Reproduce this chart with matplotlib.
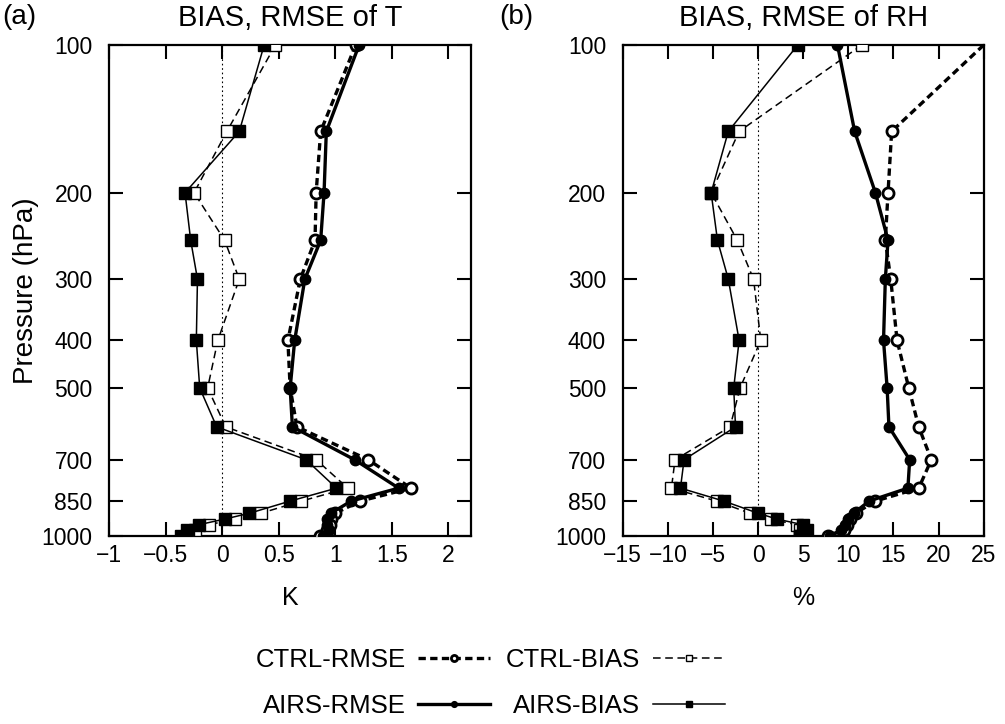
import matplotlib
matplotlib.use("Agg")
import matplotlib.pyplot as plt
from matplotlib.lines import Line2D
from matplotlib.ticker import NullLocator

plt.rcParams['font.family'] = ['Liberation Sans', 'DejaVu Sans']

# ---------------- data ----------------
levels = [100, 150, 200, 250, 300, 400, 500, 600, 700, 800, 850, 900, 925, 950, 975, 1000]

# (a) temperature (K)
t_ctrl_rmse = [1.18, 0.87, 0.83, 0.82, 0.69, 0.58, 0.60, 0.66, 1.29, 1.67, 1.22, 1.00, 0.96, 0.95, 0.93, 0.86]
t_ctrl_bias = [0.47, 0.04, -0.25, 0.02, 0.15, -0.04, -0.13, 0.03, 0.83, 1.11, 0.70, 0.34, 0.11, -0.12, -0.24, -0.30]
t_airs_rmse = [1.21, 0.92, 0.90, 0.87, 0.73, 0.64, 0.60, 0.62, 1.17, 1.56, 1.14, 0.96, 0.93, 0.93, 0.94, 0.89]
t_airs_bias = [0.37, 0.15, -0.33, -0.28, -0.22, -0.23, -0.20, -0.05, 0.74, 1.01, 0.60, 0.24, 0.02, -0.21, -0.31, -0.37]

# (b) relative humidity (%)
rh_ctrl_rmse = [25.0, 14.8, 14.4, 14.1, 14.7, 15.4, 16.7, 17.8, 19.2, 17.8, 13.0, 10.8, 10.2, 9.8, 9.5, 7.7]
rh_ctrl_bias = [11.5, -2.1, -5.2, -2.3, -0.5, 0.3, -2.0, -3.1, -9.2, -9.6, -4.6, -0.9, 1.4, 4.3, 4.6, 4.6]
rh_airs_rmse = [8.8, 10.7, 13.0, 14.4, 14.1, 13.9, 14.3, 14.5, 16.8, 16.6, 12.3, 10.6, 10.0, 9.6, 9.2, 8.0]
rh_airs_bias = [4.4, -3.3, -5.2, -4.5, -3.3, -2.1, -2.7, -2.5, -8.2, -8.6, -3.8, 0.0, 2.1, 5.0, 5.4, 4.7]

p_ticks = [100, 200, 300, 400, 500, 700, 850, 1000]
t_xticks = [-1, -0.5, 0, 0.5, 1, 1.5, 2]
t_xticklabels = ['\u22121', '\u22120.5', '0', '0.5', '1', '1.5', '2']
rh_xticks = [-15, -10, -5, 0, 5, 10, 15, 20, 25]
rh_xticklabels = ['\u221215', '\u221210', '\u22125', '0', '5', '10', '15', '20', '25']

series_names = ['CTRL-RMSE', 'CTRL-BIAS', 'AIRS-RMSE', 'AIRS-BIAS']

# ---------------- styles ----------------
styles = {
    'CTRL-RMSE': dict(color='black', lw=2.4, ls=(0, (2.2, 1.3)), marker='o', ms=8,
                      mfc='white', mec='black', mew=2.0),
    'CTRL-BIAS': dict(color='black', lw=1.1, ls=(0, (5, 3)), marker='s', ms=8,
                      mfc='white', mec='black', mew=1.0),
    'AIRS-RMSE': dict(color='black', lw=2.4, ls='-', marker='o', ms=7.5,
                      mfc='black', mec='black', mew=1.0),
    'AIRS-BIAS': dict(color='black', lw=1.1, ls='-', marker='s', ms=8,
                      mfc='black', mec='black', mew=1.0),
}

fig = plt.figure(figsize=(10.05, 7.24), dpi=100)
bottom = 1 - 535.7 / 724
top = 1 - 45 / 724
axa = fig.add_axes([109.3 / 1005, bottom, (471 - 109.3) / 1005, top - bottom])
axb = fig.add_axes([622.7 / 1005, bottom, (983.7 - 622.7) / 1005, top - bottom])

def setup(ax, xlim, xticks, xticklabels, title, xlabel):
    ax.set_yscale('log')
    ax.set_ylim(1000, 100)
    ax.set_xlim(*xlim)
    ax.set_yticks(p_ticks)
    ax.set_yticklabels([str(p) for p in p_ticks])
    ax.yaxis.set_minor_locator(NullLocator())
    ax.set_xticks(xticks)
    ax.set_xticklabels(xticklabels)
    ax.tick_params(axis='both', which='major', direction='in', length=10, width=1.5,
                   top=True, right=True, labelsize=16.5)
    ax.tick_params(axis='y', pad=12)
    ax.tick_params(axis='x', pad=6)
    for s in ax.spines.values():
        s.set_linewidth(1.6)
    ax.axvline(0, color='black', lw=0.8, ls=(0, (1.5, 2.5)), zorder=1)
    ax.set_title(title, fontsize=21, pad=14)
    ax.set_xlabel(xlabel, fontsize=18, labelpad=14)

setup(axa, (-1, 2.2), t_xticks, t_xticklabels, 'BIAS, RMSE of T', 'K')
setup(axb, (-15, 25), rh_xticks, rh_xticklabels, 'BIAS, RMSE of RH', '%')
axa.set_ylabel('Pressure (hPa)', fontsize=20, labelpad=2)

t_data = [t_ctrl_rmse, t_ctrl_bias, t_airs_rmse, t_airs_bias]
rh_data = [rh_ctrl_rmse, rh_ctrl_bias, rh_airs_rmse, rh_airs_bias]

for name, vals in zip(series_names, t_data):
    axa.plot(vals, levels, zorder=3, **styles[name])
for name, vals in zip(series_names, rh_data):
    kw = dict(styles[name])
    if name == 'CTRL-RMSE':
        kw['markevery'] = slice(1, None)
    axb.plot(vals, levels, zorder=3, **kw)

fig.text(0.002, 0.995, '(a)', fontsize=20, ha='left', va='top')
fig.text(0.497, 0.995, '(b)', fontsize=20, ha='left', va='top')

# legend (row-wise: CTRL-RMSE, CTRL-BIAS / AIRS-RMSE, AIRS-BIAS)
leg_order = ['CTRL-RMSE', 'AIRS-RMSE', 'CTRL-BIAS', 'AIRS-BIAS']
handles = [Line2D([], [], **styles[n]) for n in leg_order]
leg = fig.legend(handles, leg_order, loc='center', bbox_to_anchor=(490 / 1005, 1 - 683 / 724),
                 ncol=2, frameon=False, markerfirst=False, fontsize=18.5,
                 handlelength=2.8, handletextpad=0.5, columnspacing=0.6,
                 labelspacing=0.85, markerscale=0.55, borderpad=0, borderaxespad=0)

fig.savefig('out.png', dpi=100)
